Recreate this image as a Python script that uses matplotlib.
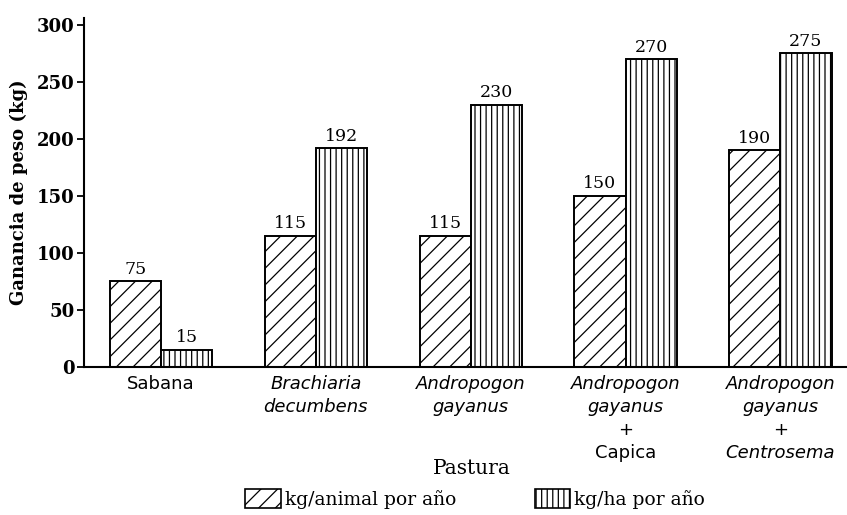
import matplotlib.pyplot as plt
import matplotlib.transforms as mtransforms
from matplotlib.patches import Patch
import numpy as np

plt.rcParams['hatch.linewidth'] = 0.9

pasturas = ["Sabana", "Brachiaria decumbens", "Andropogon gayanus",
            "Andropogon gayanus + Capica", "Andropogon gayanus + Centrosema"]
kg_animal = [75, 115, 115, 150, 190]
kg_ha = [15, 192, 230, 270, 275]
# label lines per category: (text, italic)
etiquetas = [
    [("Sabana", False)],
    [("Brachiaria", True), ("decumbens", True)],
    [("Andropogon", True), ("gayanus", True)],
    [("Andropogon", True), ("gayanus", True), ("+", False), ("Capica", False)],
    [("Andropogon", True), ("gayanus", True), ("+", False), ("Centrosema", True)],
]

fig = plt.figure(figsize=(8.47, 5.15), dpi=100)
ax = fig.add_axes([84/847, 148/515, 1 - 84/847, 349/515])

x = np.arange(len(pasturas))
w = 0.33
ax.bar(x - w/2, kg_animal, w, facecolor='white', edgecolor='black',
       hatch='//', linewidth=1.4, label='kg/animal por año')
ax.bar(x + w/2, kg_ha, w, facecolor='white', edgecolor='black',
       hatch='|||', linewidth=1.4, label='kg/ha por año')

for xi, v in zip(x - w/2, kg_animal):
    ax.text(xi, v + 3, str(v), ha='center', va='bottom', fontsize=12.5,
            family='DejaVu Serif')
for xi, v in zip(x + w/2, kg_ha):
    ax.text(xi, v + 3, str(v), ha='center', va='bottom', fontsize=12.5,
            family='DejaVu Serif')

ax.set_xlim(-0.497, 4.43)
ax.set_ylim(0, 306)
ax.set_yticks([0, 50, 100, 150, 200, 250, 300])
ax.set_yticklabels(['0', '50', '100', '150', '200', '250', '300'],
                   fontsize=13, fontweight='bold', family='DejaVu Serif')
ax.set_xticks([])
ax.spines['top'].set_visible(False)
ax.spines['right'].set_visible(False)
ax.spines['left'].set_linewidth(1.5)
ax.spines['bottom'].set_linewidth(1.5)
ax.tick_params(axis='y', length=5, width=1.3, pad=2)
ax.set_ylabel('Ganancia de peso (kg)', fontsize=13, fontweight='bold',
              family='DejaVu Serif', labelpad=6)

trans = mtransforms.blended_transform_factory(ax.transData, fig.transFigure)
for xi, lines in zip(x, etiquetas):
    for i, (t, it) in enumerate(lines):
        ypix = 384 + i * 23
        ax.text(xi, 1 - ypix/515, t, transform=trans, ha='center', va='center',
                fontsize=13, style='italic' if it else 'normal',
                family='DejaVu Sans')

fig.text(472/847, 1 - 468/515, 'Pastura', ha='center', va='center',
         fontsize=14.5, family='DejaVu Serif')

h1 = Patch(facecolor='white', edgecolor='black', hatch='//', linewidth=1.2)
h2 = Patch(facecolor='white', edgecolor='black', hatch='|||', linewidth=1.2)
fig.legend([h1, h2], ['kg/animal por año', 'kg/ha por año'], loc='center',
           bbox_to_anchor=(475/847, 1 - 499/515), ncol=2, frameon=False,
           handlelength=1.9, handleheight=1.2, handletextpad=0.2,
           columnspacing=4.2, borderpad=0.1,
           prop={'family': 'DejaVu Serif', 'size': 13.5})

fig.savefig('out.png', dpi=100)
